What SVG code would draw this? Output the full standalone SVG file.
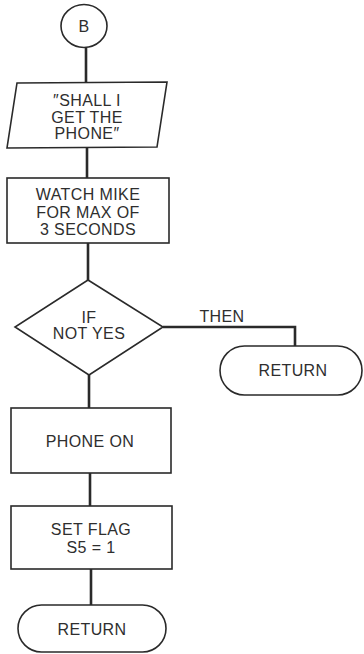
<svg xmlns="http://www.w3.org/2000/svg" width="364" height="654" viewBox="0 0 364 654">
  <style>
    .shape { fill: #fff; stroke: #2a2a2a; stroke-width: 1.6; }
    .conn { fill: none; stroke: #2a2a2a; stroke-width: 2.6; }
    text { font-family: "Liberation Sans", Arial, sans-serif; font-size: 16px; fill: #2e2e2e; text-anchor: middle; letter-spacing: 0.4px; }
  </style>
  <rect width="364" height="654" fill="#fff"/>

  <!-- flow lines -->
  <g id="connectors">
    <line class="conn" x1="86" y1="48" x2="86" y2="83"/>
    <line class="conn" x1="87" y1="148" x2="87" y2="178"/>
    <line class="conn" x1="88" y1="243" x2="88" y2="280"/>
    <polyline class="conn" points="163,327 295,327 295,346"/>
    <line class="conn" x1="89" y1="375" x2="89" y2="408"/>
    <line class="conn" x1="90" y1="473" x2="90" y2="506"/>
    <line class="conn" x1="91" y1="569" x2="91" y2="605"/>
    <text x="222" y="322">THEN</text>
  </g>

  <g id="connector-b">
    <ellipse class="shape" cx="84" cy="26" rx="23" ry="21.5"/>
    <text x="84" y="32">B</text>
  </g>

  <g id="ask-phone">
    <polygon class="shape" points="17,83 167,82 157,147 7,148"/>
    <text x="87" y="106">″SHALL I</text>
    <text x="87" y="123">GET THE</text>
    <text x="87" y="139">PHONE″</text>
  </g>

  <g id="watch-mike">
    <rect class="shape" x="7" y="178" width="162" height="65"/>
    <text x="88" y="200">WATCH MIKE</text>
    <text x="88" y="218">FOR MAX OF</text>
    <text x="88" y="235">3 SECONDS</text>
  </g>

  <g id="if-not-yes">
    <polygon class="shape" points="88,280 163,327 89,375 15,327"/>
    <text x="89" y="323">IF</text>
    <text x="89" y="339">NOT YES</text>
  </g>

  <g id="return-then">
    <rect class="shape" x="220" y="346" width="142" height="49" rx="24.5" ry="24.5"/>
    <text x="293" y="376">RETURN</text>
  </g>

  <g id="phone-on">
    <rect class="shape" x="11" y="408" width="160" height="65"/>
    <text x="90" y="447">PHONE ON</text>
  </g>

  <g id="set-flag">
    <rect class="shape" x="11" y="506" width="161" height="63"/>
    <text x="91" y="535">SET FLAG</text>
    <text x="91" y="553">S5 = 1</text>
  </g>

  <g id="return-end">
    <rect class="shape" x="18" y="605" width="148" height="47" rx="23.5" ry="23.5"/>
    <text x="92" y="635">RETURN</text>
  </g>
</svg>
